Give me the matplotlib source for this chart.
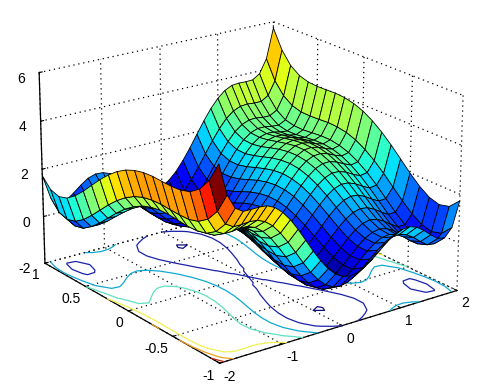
import numpy as np
import matplotlib
matplotlib.use("Agg")
import matplotlib.pyplot as plt

x_values = [-2.0,-1.875,-1.75,-1.625,-1.5,-1.375,-1.25,-1.125,-1.0,-0.875,-0.75,-0.625,-0.5,-0.375,-0.25,-0.125,0.0,
            0.125,0.25,0.375,0.5,0.625,0.75,0.875,1.0,1.125,1.25,1.375,1.5,1.625,1.75,1.875,2.0]
y_values = [-1.0,-0.9,-0.8,-0.7,-0.6,-0.5,-0.4,-0.3,-0.2,-0.1,0.0,0.1,0.2,0.3,0.4,0.5,0.6,0.7,0.8,0.9,1.0]
z_rows = [
[5.73,4.47,3.88,3.68,3.67,3.68,3.65,3.50,3.23,2.86,2.40,1.89,1.37,.90,.49,.19,0,-.06,-.01,.15,.37,.64,.90,1.11,1.23,1.25,1.15,.93,.67,.43,.38,.72,1.73],
[4.92,3.66,3.09,2.90,2.90,2.93,2.90,2.77,2.52,2.15,1.70,1.21,.71,.24,-.15,-.44,-.62,-.67,-.60,-.43,-.19,.08,.35,.58,.72,.75,.65,.46,.20,-.02,-.06,.29,1.32],
[4.41,3.17,2.61,2.44,2.44,2.49,2.47,2.35,2.11,1.76,1.32,.84,.35,-.10,-.48,-.76,-.92,-.96,-.88,-.70,-.45,-.16,.12,.36,.51,.55,.47,.29,.04,-.17,-.19,.17,1.21],
[4.13,2.90,2.35,2.19,2.22,2.27,2.27,2.16,1.93,1.59,1.17,.70,.22,-.22,-.58,-.85,-1.00,-1.03,-.93,-.74,-.48,-.18,.12,.37,.53,.59,.52,.35,.12,-.08,-.10,.28,1.33],
[4.01,2.79,2.26,2.11,2.14,2.21,2.22,2.13,1.91,1.58,1.17,.72,.25,-.18,-.53,-.79,-.92,-.94,-.83,-.63,-.35,-.04,.27,.53,.71,.78,.72,.56,.34,.16,.16,.54,1.61],
[3.98,2.78,2.25,2.12,2.17,2.25,2.27,2.19,1.98,1.67,1.27,.82,.37,-.04,-.38,-.63,-.75,-.75,-.63,-.42,-.13,.20,.52,.79,.98,1.06,1.02,.87,.67,.49,.50,.90,1.98],
[3.99,2.80,2.29,2.17,2.23,2.32,2.36,2.29,2.10,1.79,1.41,.97,.54,.13,-.20,-.43,-.54,-.53,-.40,-.17,.14,.47,.81,1.09,1.30,1.39,1.36,1.22,1.03,.87,.89,1.30,2.40],
[4.01,2.83,2.33,2.22,2.29,2.39,2.44,2.38,2.21,1.92,1.54,1.12,.70,.31,-.01,-.23,-.33,-.30,-.16,.08,.40,.75,1.09,1.39,1.61,1.71,1.69,1.57,1.39,1.24,1.28,1.70,2.81],
[3.98,2.81,2.33,2.23,2.31,2.43,2.49,2.45,2.28,2.00,1.64,1.23,.82,.44,.14,-.07,-.15,-.12,.04,.29,.62,.98,1.34,1.65,1.88,2.00,1.99,1.88,1.71,1.58,1.63,2.06,3.18],
[3.89,2.74,2.26,2.18,2.28,2.41,2.48,2.45,2.29,2.03,1.68,1.28,.88,.52,.23,.03,-.04,.01,.18,.44,.78,1.16,1.53,1.85,2.09,2.22,2.23,2.13,1.98,1.85,1.91,2.36,3.49],
[3.73,2.59,2.13,2.06,2.17,2.31,2.39,2.37,2.23,1.98,1.64,1.26,.87,.52,.24,.06,0,.06,.24,.52,.87,1.26,1.64,1.98,2.23,2.37,2.39,2.31,2.17,2.06,2.13,2.59,3.73],
[3.49,2.36,1.91,1.85,1.98,2.13,2.23,2.22,2.09,1.85,1.53,1.16,.78,.44,.18,.01,-.04,.03,.23,.52,.88,1.28,1.68,2.03,2.29,2.45,2.48,2.41,2.28,2.18,2.26,2.74,3.89],
[3.18,2.06,1.63,1.58,1.71,1.88,1.99,2.00,1.88,1.65,1.34,.98,.62,.29,.04,-.12,-.15,-.07,.14,.44,.82,1.23,1.64,2.00,2.28,2.45,2.49,2.43,2.31,2.23,2.33,2.81,3.98],
[2.81,1.70,1.28,1.24,1.39,1.57,1.69,1.71,1.61,1.39,1.09,.75,.40,.08,-.16,-.30,-.33,-.23,-.01,.31,.70,1.12,1.54,1.92,2.21,2.38,2.44,2.39,2.29,2.22,2.33,2.83,4.01],
[2.40,1.30,.89,.87,1.03,1.22,1.36,1.39,1.30,1.09,.81,.47,.14,-.17,-.40,-.53,-.54,-.43,-.20,.13,.54,.97,1.41,1.79,2.10,2.29,2.36,2.32,2.23,2.17,2.29,2.80,3.99],
[1.98,.90,.50,.49,.67,.87,1.02,1.06,.98,.79,.52,.20,-.13,-.42,-.63,-.75,-.75,-.63,-.38,-.04,.37,.82,1.27,1.67,1.98,2.19,2.27,2.25,2.17,2.12,2.25,2.78,3.98],
[1.61,.54,.16,.16,.34,.56,.72,.78,.71,.53,.27,-.04,-.35,-.63,-.83,-.94,-.92,-.79,-.53,-.18,.25,.72,1.17,1.58,1.91,2.13,2.22,2.21,2.14,2.11,2.26,2.79,4.01],
[1.33,.28,-.10,-.08,.12,.35,.52,.59,.53,.37,.12,-.18,-.48,-.74,-.93,-1.03,-1.00,-.85,-.58,-.22,.22,.70,1.17,1.59,1.93,2.16,2.27,2.27,2.22,2.19,2.35,2.90,4.13],
[1.21,.17,-.19,-.17,.04,.29,.47,.55,.51,.36,.12,-.16,-.45,-.70,-.88,-.96,-.92,-.76,-.48,-.10,.35,.84,1.32,1.76,2.11,2.35,2.47,2.49,2.44,2.44,2.61,3.17,4.41],
[1.32,.29,-.06,-.02,.20,.46,.65,.75,.72,.58,.35,.08,-.19,-.43,-.60,-.67,-.62,-.44,-.15,.24,.71,1.21,1.70,2.15,2.52,2.77,2.90,2.93,2.90,2.90,3.09,3.66,4.92],
[1.73,.72,.38,.43,.67,.93,1.15,1.25,1.23,1.11,.90,.64,.37,.15,-.01,-.06,0,.19,.49,.90,1.37,1.89,2.40,2.86,3.23,3.50,3.65,3.68,3.67,3.68,3.88,4.47,5.73],
]
contour_levels = [-1, 0, 1, 2, 3, 4, 5]
contour_colors = ['#10107a', '#1a22a8', '#10a8d0', '#60e0c0', '#f0f050', '#f0a020', '#c02010']
x_ticks = [-2, -1, 0, 1, 2]
y_ticks = [-1, -0.5, 0, 0.5, 1]
y_tick_labels = ["-1", "-0.5", "0", "0.5", "1"]
z_ticks = [-2, 0, 2, 4, 6]

plt.rcParams['font.family'] = ['Liberation Sans', 'DejaVu Sans']
plt.rcParams['axes.unicode_minus'] = False

X, Y = np.meshgrid(x_values, y_values)
Z = np.array(z_rows)
vmin, vmax = Z.min(), Z.max()
norm = plt.Normalize(vmin, vmax)

fig = plt.figure(figsize=(5.01, 3.91), dpi=100)
ax = fig.add_axes([-0.015, 0.022, 1, 1], projection='3d', computed_zorder=False)
ax.set_proj_type('persp', focal_length=1.2)
ax.view_init(elev=20.5, azim=-126.5)
ax.set_box_aspect((292, 305, 205), zoom=1.17)

cs = ax.contour(X, Y, Z, levels=contour_levels, zdir='z', offset=-2, colors=contour_colors,
                linewidths=0.9, zorder=1)
cs.set_clip_on(False)
surf = ax.plot_surface(X, Y, Z, rstride=1, cstride=1, facecolors=plt.cm.jet(norm(Z)),
                       shade=False, zorder=2)
surf.set_edgecolor('black')
surf.set_linewidth(0.6)
surf.set_clip_on(False)

ax.set_xlim(-2, 2, view_margin=0)
ax.set_ylim(-1, 1, view_margin=0)
ax.set_zlim(-2, 6, view_margin=0)
ax.set_xticks(x_ticks)
ax.set_yticks(y_ticks)
ax.set_yticklabels(y_tick_labels)
ax.set_zticks(z_ticks)
for axis in (ax.xaxis, ax.yaxis, ax.zaxis):
    axis.pane.fill = False
    axis.pane.set_edgecolor('none')
    axis.line.set_color('black')
    axis.line.set_linewidth(0.9)
    axis._axinfo['grid'].update(color='black', linewidth=0.9, linestyle=(0, (1, 3)))
    axis._axinfo['tick']['inward_factor'] = 0.0
    axis._axinfo['tick']['outward_factor'] = 0.15
ax.tick_params(axis='x', labelsize=10, colors='black', pad=-5)
ax.tick_params(axis='y', labelsize=10, colors='black', pad=-5)
ax.tick_params(axis='z', labelsize=10, colors='black', pad=-3)
for t in ax.get_xticklabels():
    t.set_ha('left')
for t in ax.get_yticklabels():
    t.set_ha('right')
for t in ax.get_zticklabels():
    t.set_ha('right')
ax.patch.set_alpha(0)

fig.savefig('out.png', dpi=100)
